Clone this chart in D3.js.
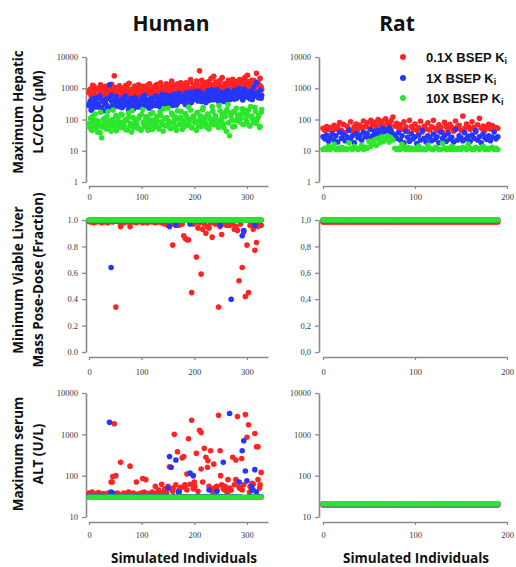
<!DOCTYPE html>
<html><head><meta charset="utf-8">
<script src="https://cdn.jsdelivr.net/npm/d3@7"></script>
<style>body{margin:0;background:#fff}svg{display:block}</style>
</head><body>
<svg id="c" width="516" height="567"></svg>
<script>
// ---------- DATA ----------
const humanIds = d3.range(0, 330, 3);   // simulated human individuals (110)
const humanIds2 = d3.range(1, 330, 3);  // further simulated human individuals (110)
const ratIds = d3.range(0, 192, 2);     // simulated rat individuals (96)
const seriesNames = ["0.1X BSEP K", "1X BSEP K", "10X BSEP K"];
const logTicksTop = [1, 10, 100, 1000, 10000];
const fracTicks = [0, 0.2, 0.4, 0.6, 0.8, 1.0];
const logTicksAlt = [10, 100, 1000, 10000];
const humanXTicks = [0, 100, 200, 300];
const ratXTicks = [0, 100, 200];

// Maximum hepatic LC/CDC (uM) - Human
const hTopRed = [
 720, 950, 610, 1150, 830, 540, 1020, 760, 890, 650,
 1080, 700, 820, 560, 980, 740, 2500, 870, 630, 1120,
 790, 520, 950, 680, 1060, 830, 600, 910, 750, 1180,
 640, 880, 1010, 720, 560, 960, 830, 1240, 690, 900,
 780, 1100, 650, 1320, 860, 740, 1050, 920, 680, 1400,
 830, 1150, 760, 980, 1280, 700, 1060, 890, 1500, 820,
 1180, 950, 1350, 780, 1600, 1020, 880, 1250, 1700, 960,
 3600, 1100, 840, 1400, 1200, 980, 1650, 870, 1300, 2400,
 1050, 1500, 920, 1800, 1150, 1000, 1400, 1250, 860, 1700,
 1100, 1950, 980, 1300, 1600, 1050, 1450, 1200, 2000, 2300,
 1150, 1600, 900, 1800, 1350, 1050, 3000, 1500, 1250, 1100];
const hTopRed2 = [
 880, 560, 1250, 690, 1000, 450, 930, 1300, 600, 820,
 1150, 500, 940, 760, 1350, 620, 1050, 480, 900, 1200,
 680, 1000, 540, 1250, 860, 1450, 700, 950, 520, 1100,
 820, 1300, 600, 980, 1150, 520, 890, 720, 1380, 640,
 1000, 580, 1250, 900, 700, 1500, 820, 1100, 560, 960,
 1300, 700, 1700, 900, 1080, 620, 1400, 800, 1150, 980,
 750, 1500, 1050, 880, 1900, 700, 1300, 1000, 1450, 820,
 1200, 1800, 950, 1100, 1550, 700, 1350, 2100, 920, 1250,
 1600, 880, 1300, 1000, 2200, 760, 1450, 1100, 1800, 950,
 1400, 800, 1700, 1250, 1000, 1900, 720, 1500, 1150, 1650,
 2600, 950, 1400, 1200, 1750, 800, 1550, 1300, 2100, 900];
const hTopBlue = [
 280, 400, 220, 350, 480, 250, 310, 560, 230, 380,
 300, 450, 210, 1300, 600, 270, 420, 320, 430, 260,
 360, 240, 500, 300, 390, 210, 330, 470, 280, 350,
 440, 250, 380, 300, 520, 270, 410, 340, 230, 480,
 360, 290, 560, 330, 400, 250, 470, 380, 310, 600,
 420, 350, 520, 280, 640, 400, 330, 700, 450, 380,
 560, 300, 480, 420, 750, 360, 540, 460, 650, 390,
 800, 500, 420, 620, 350, 700, 480, 560, 900, 430,
 610, 520, 380, 740, 470, 660, 540, 410, 850, 500,
 580, 720, 450, 630, 520, 980, 600, 480, 760, 540,
 700, 560, 460, 820, 560, 650, 1500, 520, 620, 480];
const hTopBlue2 = [
 330, 200, 450, 260, 380, 300, 520, 240, 410, 190,
 350, 280, 470, 230, 390, 320, 260, 540, 300, 420,
 250, 380, 290, 560, 330, 270, 440, 360, 220, 500,
 310, 400, 270, 460, 350, 600, 290, 430, 380, 260,
 450, 340, 280, 520, 410, 360, 640, 300, 480, 390,
 330, 560, 440, 370, 500, 290, 620, 410, 530, 460,
 380, 700, 450, 520, 340, 610, 480, 800, 420, 560,
 500, 380, 680, 450, 590, 840, 410, 630, 520, 720,
 460, 900, 560, 480, 650, 380, 770, 540, 600, 440,
 680, 520, 860, 470, 610, 700, 560, 420, 950, 600,
 520, 780, 640, 440, 1100, 580, 700, 500, 860, 600];
const hTopGreen = [
 60, 110, 45, 85, 150, 55, 70, 38, 26, 65,
 90, 50, 180, 75, 42, 100, 60, 135, 120, 80,
 55, 140, 70, 48, 95, 160, 62, 40, 115, 72,
 88, 52, 130, 45, 210, 68, 105, 58, 82, 150,
 48, 95, 70, 125, 55, 175, 85, 42, 110, 65,
 230, 78, 52, 140, 95, 60, 190, 72, 118, 48,
 85, 155, 66, 250, 100, 54, 130, 80, 45, 170,
 92, 60, 210, 120, 75, 145, 50, 98, 260, 68,
 135, 88, 55, 190, 105, 72, 160, 42, 300, 30,
 125, 58, 180, 95, 140, 110, 110, 220, 70, 150,
 85, 200, 62, 130, 95, 240, 75, 115, 55, 170];
const hTopGreen2 = [
 75, 48, 130, 62, 95, 40, 88, 170, 58, 105,
 70, 125, 52, 92, 65, 200, 78, 44, 110, 60,
 150, 82, 57, 100, 46, 120, 74, 190, 55, 90,
 66, 108, 50, 145, 80, 60, 125, 45, 98, 72,
 165, 58, 102, 85, 50, 135, 70, 220, 62, 115,
 90, 52, 160, 78, 125, 45, 105, 68, 180, 95,
 60, 140, 110, 75, 200, 55, 120, 90, 165, 62,
 130, 80, 240, 100, 58, 150, 115, 70, 185, 95,
 110, 65, 280, 85, 140, 55, 125, 210, 78, 160,
 95, 175, 60, 230, 120, 85, 150, 70, 200, 105,
 140, 65, 260, 110, 80, 180, 98, 135, 60, 210];

// Maximum hepatic LC/CDC (uM) - Rat
const rTopRed = [
 52, 45, 60, 48, 55, 42, 65, 50, 58, 80, 45, 70,
 38, 62, 50, 85, 44, 58, 72, 48, 66, 55, 90, 60,
 78, 52, 95, 68, 82, 58, 100, 75, 88, 64, 105, 80,
 70, 92, 120, 62, 75, 55, 68, 48, 85, 58, 42, 95,
 60, 50, 72, 45, 55, 88, 40, 62, 50, 78, 46, 58,
 95, 52, 44, 68, 56, 40, 82, 60, 48, 70, 55, 42,
 90, 58, 65, 45, 130, 52, 72, 60, 48, 85, 56, 40,
 68, 110, 52, 62, 45, 58, 70, 50, 64, 46, 55, 52];
const rTopBlue = [
 28, 24, 32, 20, 26, 35, 22, 30, 19, 40, 25, 33,
 21, 28, 45, 24, 30, 18, 36, 26, 32, 22, 40, 28,
 35, 25, 48, 30, 42, 34, 45, 36, 52, 40, 48, 38,
 55, 44, 35, 30, 25, 38, 22, 30, 18, 42, 27, 20,
 35, 24, 28, 17, 32, 22, 45, 25, 19, 30, 26, 21,
 34, 23, 28, 18, 40, 25, 30, 20, 36, 24, 27, 19,
 48, 22, 30, 26, 21, 38, 24, 29, 20, 32, 25, 44,
 22, 28, 18, 35, 26, 23, 30, 21, 27, 40, 24, 28];
const rTopGreen = [
 11, 12, 11, 14, 11, 12, 16, 11, 12, 11, 13, 11,
 12, 11, 18, 12, 11, 14, 12, 11, 12, 15, 11, 13,
 12, 20, 14, 16, 22, 15, 25, 18, 28, 20, 24, 30,
 19, 26, 22, 12, 11, 12, 11, 16, 12, 11, 13, 11,
 12, 11, 12, 11, 14, 11, 12, 11, 11, 15, 12, 11,
 11, 13, 12, 11, 11, 17, 12, 11, 12, 11, 14, 11,
 12, 11, 12, 11, 13, 12, 11, 16, 12, 11, 11, 13,
 12, 11, 12, 14, 11, 12, 11, 12, 13, 11, 12, 11];

// Minimum viable liver mass post-dose (fraction) - Human
const hMidRed = [
 0.99, 0.985, 0.99, 0.98, 0.99, 0.985, 0.99, 0.99, 0.98, 0.99,
 0.985, 0.99, 0.98, 0.99, 0.99, 0.985, 0.99, 0.34, 0.99, 0.985,
 0.95, 0.99, 0.98, 0.99, 0.985, 0.99, 0.95, 0.99, 0.985, 0.99,
 0.98, 0.99, 0.99, 0.985, 0.98, 0.99, 0.985, 0.98, 0.99, 0.99,
 0.985, 0.99, 0.98, 0.99, 0.985, 0.99, 0.98, 0.98, 0.97, 0.99,
 0.96, 0.985, 0.97, 0.81, 0.98, 0.97, 0.985, 0.96, 0.98, 0.97,
 0.88, 0.86, 0.85, 0.85, 0.98, 0.45, 0.97, 0.98, 0.72, 0.94,
 0.98, 0.59, 0.93, 0.97, 0.90, 0.95, 0.94, 0.98, 0.87, 0.98,
 0.97, 0.98, 0.34, 0.95, 0.89, 0.97, 0.98, 0.96, 0.98, 0.96,
 0.98, 0.97, 0.93, 0.95, 0.92, 0.54, 0.97, 0.64, 0.91, 0.42,
 0.81, 0.45, 0.96, 0.98, 0.93, 0.77, 0.83, 0.95, 0.97, 0.96];
const hMidBlue = [
 1, 1, 1, 1, 1, 1, 1, 1, 1, 1,
 1, 1, 1, 1, 0.64, 1, 1, 1, 1, 1,
 1, 1, 1, 1, 1, 1, 1, 1, 1, 1,
 1, 1, 1, 1, 1, 1, 1, 1, 1, 1,
 1, 1, 1, 1, 1, 1, 1, 1, 1, 1,
 1, 0.95, 1, 1, 1, 0.96, 1, 1, 1, 1,
 1, 1, 1, 1, 0.97, 1, 1, 1, 1, 1,
 1, 1, 1, 1, 1, 1, 1, 1, 1, 1,
 1, 1, 1, 0.96, 1, 1, 1, 1, 1, 1,
 0.40, 1, 1, 1, 1, 1, 1, 0.88, 0.92, 1,
 1, 1, 1, 1, 1, 0.96, 1, 1, 1, 1];
const hMidGreen = [
 1, 1, 1, 1, 1, 1, 1, 1, 1, 1,
 1, 1, 1, 1, 1, 1, 1, 1, 1, 1,
 1, 1, 1, 1, 1, 1, 1, 1, 1, 1,
 1, 1, 1, 1, 1, 1, 1, 1, 1, 1,
 1, 1, 1, 1, 1, 1, 1, 1, 1, 1,
 1, 1, 1, 1, 1, 1, 1, 1, 1, 1,
 1, 1, 1, 1, 1, 1, 1, 1, 1, 1,
 1, 1, 1, 1, 1, 1, 1, 1, 1, 1,
 1, 1, 1, 1, 1, 1, 1, 1, 1, 1,
 1, 1, 1, 1, 1, 1, 1, 1, 1, 1,
 1, 1, 1, 1, 1, 1, 1, 1, 1, 1];

// Minimum viable liver mass post-dose (fraction) - Rat
const rMidRed = [
 0.985, 0.985, 0.985, 0.985, 0.985, 0.985, 0.985, 0.985, 0.985, 0.985, 0.985, 0.985,
 0.985, 0.985, 0.985, 0.985, 0.985, 0.985, 0.985, 0.985, 0.985, 0.985, 0.985, 0.985,
 0.985, 0.985, 0.985, 0.985, 0.985, 0.985, 0.985, 0.985, 0.985, 0.985, 0.985, 0.985,
 0.985, 0.985, 0.985, 0.985, 0.985, 0.985, 0.985, 0.985, 0.985, 0.985, 0.985, 0.985,
 0.985, 0.985, 0.985, 0.985, 0.985, 0.985, 0.985, 0.985, 0.985, 0.985, 0.985, 0.985,
 0.985, 0.985, 0.985, 0.985, 0.985, 0.985, 0.985, 0.985, 0.985, 0.985, 0.985, 0.985,
 0.985, 0.985, 0.985, 0.985, 0.985, 0.985, 0.985, 0.985, 0.985, 0.985, 0.985, 0.985,
 0.985, 0.985, 0.985, 0.985, 0.985, 0.985, 0.985, 0.985, 0.985, 0.985, 0.985, 0.985];
const rMidBlue = [
 1, 1, 1, 1, 1, 1, 1, 1, 1, 1, 1, 1,
 1, 1, 1, 1, 1, 1, 1, 1, 1, 1, 1, 1,
 1, 1, 1, 1, 1, 1, 1, 1, 1, 1, 1, 1,
 1, 1, 1, 1, 1, 1, 1, 1, 1, 1, 1, 1,
 1, 1, 1, 1, 1, 1, 1, 1, 1, 1, 1, 1,
 1, 1, 1, 1, 1, 1, 1, 1, 1, 1, 1, 1,
 1, 1, 1, 1, 1, 1, 1, 1, 1, 1, 1, 1,
 1, 1, 1, 1, 1, 1, 1, 1, 1, 1, 1, 1];
const rMidGreen = [
 1, 1, 1, 1, 1, 1, 1, 1, 1, 1, 1, 1,
 1, 1, 1, 1, 1, 1, 1, 1, 1, 1, 1, 1,
 1, 1, 1, 1, 1, 1, 1, 1, 1, 1, 1, 1,
 1, 1, 1, 1, 1, 1, 1, 1, 1, 1, 1, 1,
 1, 1, 1, 1, 1, 1, 1, 1, 1, 1, 1, 1,
 1, 1, 1, 1, 1, 1, 1, 1, 1, 1, 1, 1,
 1, 1, 1, 1, 1, 1, 1, 1, 1, 1, 1, 1,
 1, 1, 1, 1, 1, 1, 1, 1, 1, 1, 1, 1];

// Maximum serum ALT (U/L) - Human
const hAltRed = [
 38, 33, 40, 32, 36, 33, 39, 32, 34, 37,
 33, 32, 38, 36, 70, 95, 1800, 100, 38, 35,
 210, 34, 38, 33, 36, 40, 170, 33, 38, 36,
 70, 36, 33, 38, 85, 40, 80, 35, 37, 33,
 40, 36, 55, 38, 45, 36, 62, 40, 48, 38,
 55, 165, 48, 42, 1000, 60, 380, 45, 52, 270,
 290, 50, 45, 780, 62, 2200, 48, 55, 350, 42,
 1250, 145, 70, 460, 280, 160, 55, 400, 48, 190,
 52, 45, 2900, 400, 60, 48, 55, 42, 80, 50,
 45, 280, 60, 240, 2700, 52, 48, 45, 60, 3000,
 850, 1700, 55, 48, 62, 1050, 500, 80, 50, 120];
const hAltRedExtra = [
 [44, 70], [213, 1100], [321, 500], [186, 110], [200, 70], [243, 55], [258, 45],
 [290, 260], [310, 65], [325, 60], [160, 50], [172, 45], [235, 40], [265, 42],
 [305, 40], [182, 60], [226, 230], [250, 100], [279, 80], [312, 45]];
const hAltBlue = [
 31, 31, 31, 31, 31, 31, 31, 31, 31, 31,
 31, 31, 31, 1950, 40, 38, 31, 31, 31, 31,
 31, 31, 31, 31, 31, 31, 31, 31, 31, 31,
 31, 31, 31, 31, 31, 31, 31, 31, 31, 31,
 31, 31, 31, 31, 31, 31, 31, 31, 31, 31,
 31, 290, 160, 31, 31, 240, 31, 40, 31, 31,
 31, 31, 31, 31, 115, 31, 100, 31, 31, 31,
 31, 31, 31, 31, 31, 31, 45, 31, 31, 31,
 31, 42, 31, 31, 31, 210, 31, 31, 31, 3200,
 31, 31, 31, 31, 31, 70, 31, 400, 700, 130,
 75, 31, 31, 55, 31, 140, 40, 31, 31, 31];
const hAltBlueExtra = [[150, 50], [170, 40], [310, 45]];
const hAltGreen = [
 30, 30, 30, 30, 30, 30, 30, 30, 30, 30,
 30, 30, 30, 30, 30, 30, 30, 30, 30, 30,
 30, 30, 30, 30, 30, 30, 30, 30, 30, 30,
 30, 30, 30, 30, 30, 30, 30, 30, 30, 30,
 30, 30, 30, 30, 30, 30, 30, 30, 30, 30,
 30, 30, 30, 30, 30, 30, 30, 30, 30, 30,
 30, 30, 30, 30, 30, 30, 30, 30, 30, 30,
 30, 30, 30, 30, 30, 30, 30, 30, 30, 30,
 30, 30, 30, 30, 30, 30, 30, 30, 30, 30,
 30, 30, 30, 30, 30, 30, 30, 30, 30, 30,
 30, 30, 30, 30, 30, 30, 30, 30, 30, 30];

// Maximum serum ALT (U/L) - Rat
const rAltRed = [
 19.5, 19.5, 19.5, 19.5, 19.5, 19.5, 19.5, 19.5, 19.5, 19.5, 19.5, 19.5,
 19.5, 19.5, 19.5, 19.5, 19.5, 19.5, 19.5, 19.5, 19.5, 19.5, 19.5, 19.5,
 19.5, 19.5, 19.5, 19.5, 19.5, 19.5, 19.5, 19.5, 19.5, 19.5, 19.5, 19.5,
 19.5, 19.5, 19.5, 19.5, 19.5, 19.5, 19.5, 19.5, 19.5, 19.5, 19.5, 19.5,
 19.5, 19.5, 19.5, 19.5, 19.5, 19.5, 19.5, 19.5, 19.5, 19.5, 19.5, 19.5,
 19.5, 19.5, 19.5, 19.5, 19.5, 19.5, 19.5, 19.5, 19.5, 19.5, 19.5, 19.5,
 19.5, 19.5, 19.5, 19.5, 19.5, 19.5, 19.5, 19.5, 19.5, 19.5, 19.5, 19.5,
 19.5, 19.5, 19.5, 19.5, 19.5, 19.5, 19.5, 19.5, 19.5, 19.5, 19.5, 19.5];
const rAltBlue = [
 21, 21, 21, 21, 21, 21, 21, 21, 21, 21, 21, 21,
 21, 21, 21, 21, 21, 21, 21, 21, 21, 21, 21, 21,
 21, 21, 21, 21, 21, 21, 21, 21, 21, 21, 21, 21,
 21, 21, 21, 21, 21, 21, 21, 21, 21, 21, 21, 21,
 21, 21, 21, 21, 21, 21, 21, 21, 21, 21, 21, 21,
 21, 21, 21, 21, 21, 21, 21, 21, 21, 21, 21, 21,
 21, 21, 21, 21, 21, 21, 21, 21, 21, 21, 21, 21,
 21, 21, 21, 21, 21, 21, 21, 21, 21, 21, 21, 21];
const rAltGreen = [
 21, 21, 21, 21, 21, 21, 21, 21, 21, 21, 21, 21,
 21, 21, 21, 21, 21, 21, 21, 21, 21, 21, 21, 21,
 21, 21, 21, 21, 21, 21, 21, 21, 21, 21, 21, 21,
 21, 21, 21, 21, 21, 21, 21, 21, 21, 21, 21, 21,
 21, 21, 21, 21, 21, 21, 21, 21, 21, 21, 21, 21,
 21, 21, 21, 21, 21, 21, 21, 21, 21, 21, 21, 21,
 21, 21, 21, 21, 21, 21, 21, 21, 21, 21, 21, 21,
 21, 21, 21, 21, 21, 21, 21, 21, 21, 21, 21, 21];

// ---------- DRAW ----------
const COLORS = ["#ff2424", "#2436ff", "#2be62b"];
const R = 2.8;
const svg = d3.select("#c");
const pts = (ids, vals) => vals.map((v, i) => [ids[i], v]).filter(d => d[0] !== undefined);

const HX = d3.scaleLinear().domain([0, 340]).range([89, 268]);
const RX = d3.scaleLinear().domain([0, 200]).range([323, 507]);

const rows = [
  {y: d3.scaleLog().domain([1, 10000]).range([182, 57]), ticks: logTicksTop, axisY: 186, pad: 5, fmt: d => String(d)},
  {y: d3.scaleLinear().domain([0, 1]).range([352, 220]), ticks: fracTicks, axisY: 357, pad: 9, fmt: d3.format(".1f")},
  {y: d3.scaleLog().domain([10, 10000]).range([517, 393]), ticks: logTicksAlt, axisY: 522, pad: 7, fmt: d => String(d)}
];

function styleAxis(g) {
  g.select(".domain").attr("stroke", "#8a8a8a").attr("stroke-width", 1.6);
  g.selectAll(".tick line").attr("stroke", "#8a8a8a").attr("stroke-width", 1.3);
  g.selectAll(".tick text").attr("fill", "#3a3a3a")
    .style("font-family", "'Liberation Serif', serif").style("font-size", "8.5px");
}

function drawPanel(x, xTicks, yAxisX, row, series, comma) {
  const gy = svg.append("g").attr("transform", `translate(${yAxisX},0)`)
    .call(d3.axisLeft(row.y).tickValues(row.ticks)
      .tickFormat(d => { const s = row.fmt(d); return comma ? s.replace(".", ",") : s; })
      .tickSize(4).tickSizeOuter(0).tickPadding(4));
  styleAxis(gy);
  const gx = svg.append("g").attr("transform", `translate(0,${row.axisY})`)
    .call(d3.axisBottom(x).tickValues(xTicks).tickSize(3).tickSizeOuter(0).tickPadding(row.pad)
      .tickFormat(d => String(d)));
  styleAxis(gx);
  series.forEach((data, k) => {
    svg.append("g").selectAll("circle").data(data).join("circle")
      .attr("cx", d => x(d[0])).attr("cy", d => row.y(d[1])).attr("r", R)
      .attr("fill", COLORS[k]);
  });
}

// Human column
drawPanel(HX, humanXTicks, 86, rows[0],
  [pts(humanIds, hTopRed).concat(pts(humanIds2, hTopRed2)),
   pts(humanIds, hTopBlue).concat(pts(humanIds2, hTopBlue2)),
   pts(humanIds, hTopGreen).concat(pts(humanIds2, hTopGreen2))], false);
drawPanel(HX, humanXTicks, 86, rows[1],
  [pts(humanIds, hMidRed), pts(humanIds, hMidBlue), pts(humanIds, hMidGreen)], false);
drawPanel(HX, humanXTicks, 86, rows[2],
  [pts(humanIds, hAltRed).concat(hAltRedExtra), pts(humanIds, hAltBlue).concat(hAltBlueExtra), pts(humanIds, hAltGreen)], false);
// Rat column
drawPanel(RX, ratXTicks, 319, rows[0],
  [pts(ratIds, rTopRed), pts(ratIds, rTopBlue), pts(ratIds, rTopGreen)], false);
drawPanel(RX, ratXTicks, 319, rows[1],
  [pts(ratIds, rMidRed), pts(ratIds, rMidBlue), pts(ratIds, rMidGreen)], true);
drawPanel(RX, ratXTicks, 319, rows[2],
  [pts(ratIds, rAltRed), pts(ratIds, rAltBlue), pts(ratIds, rAltGreen)], false);

// Column titles
const titleFont = "'Open Sans', 'DejaVu Sans', sans-serif";
svg.append("text").attr("x", 171).attr("y", 31).attr("text-anchor", "middle")
  .style("font-family", titleFont).style("font-weight", 700).style("font-size", "21px")
  .attr("fill", "#111").text("Human");
svg.append("text").attr("x", 397).attr("y", 31).attr("text-anchor", "middle")
  .style("font-family", titleFont).style("font-weight", 700).style("font-size", "21px")
  .attr("fill", "#111").text("Rat");

// Y-axis titles (two lines, rotated)
const yTitles = [
  {cy: 112, lines: ["Maximum Hepatic", "LC/CDC (\u03bcM)"]},
  {cy: 280, lines: ["Minimum Viable Liver", "Mass Pose-Dose (Fraction)"]},
  {cy: 454, lines: ["Maximum serum", "ALT (U/L)"]}
];
yTitles.forEach(t => {
  t.lines.forEach((ln, i) => {
    svg.append("text")
      .attr("transform", `translate(${i === 0 ? 18 : 37.5},${t.cy}) rotate(-90)`)
      .attr("text-anchor", "middle").attr("dominant-baseline", "central")
      .style("font-family", titleFont).style("font-weight", 700).style("font-size", "13.5px")
      .attr("fill", "#111").text(ln);
  });
});

// X-axis titles
[[184, "Simulated Individuals"], [416, "Simulated Individuals"]].forEach(([cx, s]) => {
  svg.append("text").attr("x", cx).attr("y", 563).attr("text-anchor", "middle")
    .style("font-family", titleFont).style("font-weight", 700).style("font-size", "13.5px")
    .attr("fill", "#111").text(s);
});

// Legend
const legY = [57, 78, 98];
seriesNames.forEach((name, k) => {
  svg.append("circle").attr("cx", 403).attr("cy", legY[k]).attr("r", 3).attr("fill", COLORS[k]);
  const t = svg.append("text").attr("x", 426).attr("y", legY[k]).attr("dominant-baseline", "central")
    .style("font-family", "'Liberation Sans', Arial, sans-serif").style("font-weight", 700)
    .style("font-size", "13px").attr("fill", "#111");
  t.append("tspan").text(name);
  t.append("tspan").attr("dy", 4).style("font-size", "9px").text("i");
});
</script>
</body></html>
